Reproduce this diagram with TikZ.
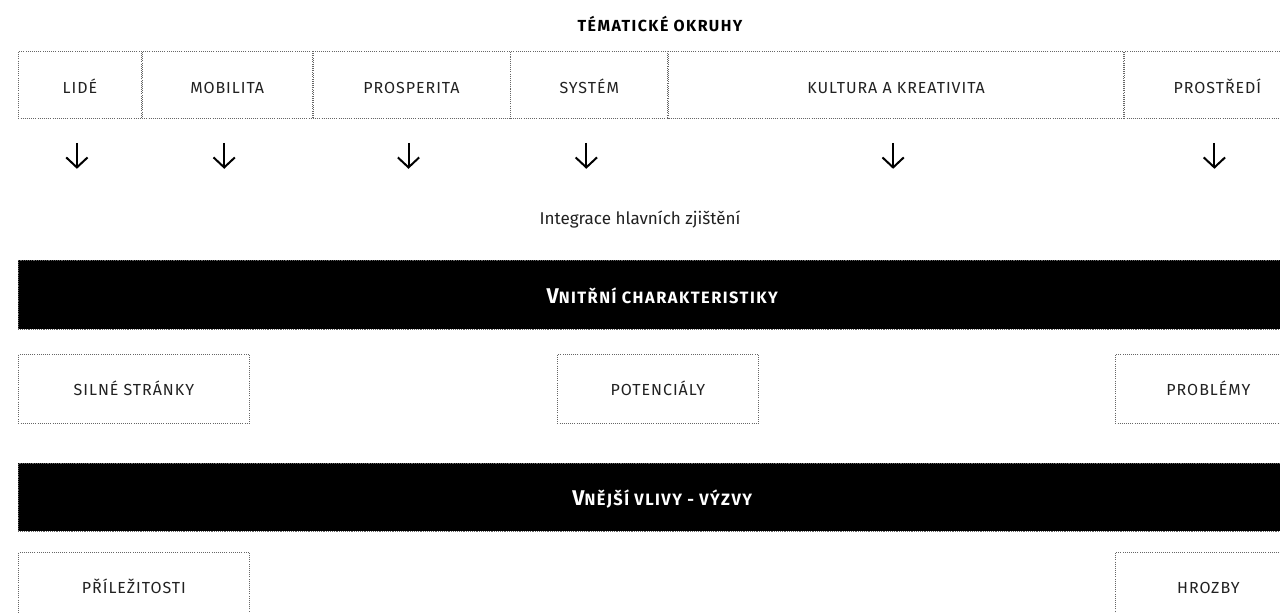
\documentclass[tikz,border=0pt]{standalone}
\usepackage{fontspec}
\setmainfont{Fira Sans}
\newfontfamily\capsfont[LetterSpace=6]{Fira Sans}
\newfontfamily\widecaps[LetterSpace=9]{Fira Sans}
\usetikzlibrary{positioning,calc,arrows.meta}
\definecolor{txt}{rgb}{0.13,0.13,0.13}
\definecolor{dots}{rgb}{0.40,0.40,0.40}
\newcommand{\fakesc}[2]{{\fontsize{16}{18}\selectfont #1}{\fontsize{12.3}{14}\selectfont #2}}

\begin{document}
\begin{tikzpicture}[x=0.75pt,y=0.75pt,yscale=-1,xscale=1,
	box/.style={draw=dots,densely dotted,line width=0.6pt,inner sep=0pt,text=txt,
		font=\capsfont\fontsize{12}{14}\selectfont,text height=10.5pt,text depth=0pt},
	toprow/.style={box,minimum height=50.25pt,text height=12.8pt},
	sidebox/.style={box,anchor=north west,minimum height=51.75pt},
	bar/.style={fill=black,draw=dots,densely dotted,inner sep=0pt,anchor=north west,
		minimum width=966pt,text=white,font=\widecaps\bfseries,text height=12.8pt,text depth=0pt},
	arr/.style={line width=1.5pt,-{Straight Barb[length=7.5pt,width=16pt]}}]
			\useasboundingbox (0,0) rectangle (1280,613);
			\clip (0,0) rectangle (1280,613);

			\node (title) [anchor=base,text=black,font=\widecaps\bfseries\fontsize{12}{14}\selectfont] at (660,32) {TÉMATICKÉ OKRUHY};

			\node (lide) [toprow,anchor=north west,minimum width=92.25pt] at (18,51) {LIDÉ};
			\node (mobilita) [toprow,minimum width=127.5pt,right=0pt of lide] {MOBILITA};
			\node (prosperita) [toprow,minimum width=147.75pt,right=0pt of mobilita] {PROSPERITA};
			\node (system) [toprow,minimum width=117.75pt,right=0pt of prosperita] {SYSTÉM};
			\node (kultura) [toprow,minimum width=341.25pt,right=0pt of system] {KULTURA A KREATIVITA};
			\node (prostredi) [toprow,minimum width=139.5pt,right=0pt of kultura] {PROSTŘEDÍ};

			\foreach \n in {lide,mobilita,prosperita,system,kultura,prostredi}
				\draw[arr] ($(\n.south)+(-3,24)$) -- ++(0,26);

			\node (integrace) [anchor=base,text=txt,font=\fontsize{12.8}{15}\selectfont] at (640,224) {Integrace hlavních zjištění};

			\node (vnitrni) [bar,minimum height=51.75pt] at (18,260) {\fakesc{V}{NITŘNÍ CHARAKTERISTIKY}};

			\node (silne) [sidebox,minimum width=173.25pt] at (18,354) {SILNÉ STRÁNKY};
			\node (potencialy) [sidebox,minimum width=150.75pt] at (557,354) {POTENCIÁLY};
			\node (problemy) [sidebox,minimum width=139.5pt] at (1115,354) {PROBLÉMY};

			\node (vnejsi) [bar,minimum height=51pt] at (18,463) {\fakesc{V}{NĚJŠÍ VLIVY - VÝZVY}};

			\node (prilezitosti) [sidebox,minimum width=173.25pt] at (18,552) {PŘÍLEŽITOSTI};
			\node (hrozby) [sidebox,minimum width=139.5pt] at (1115,552) {HROZBY};
\end{tikzpicture}
\end{document}
